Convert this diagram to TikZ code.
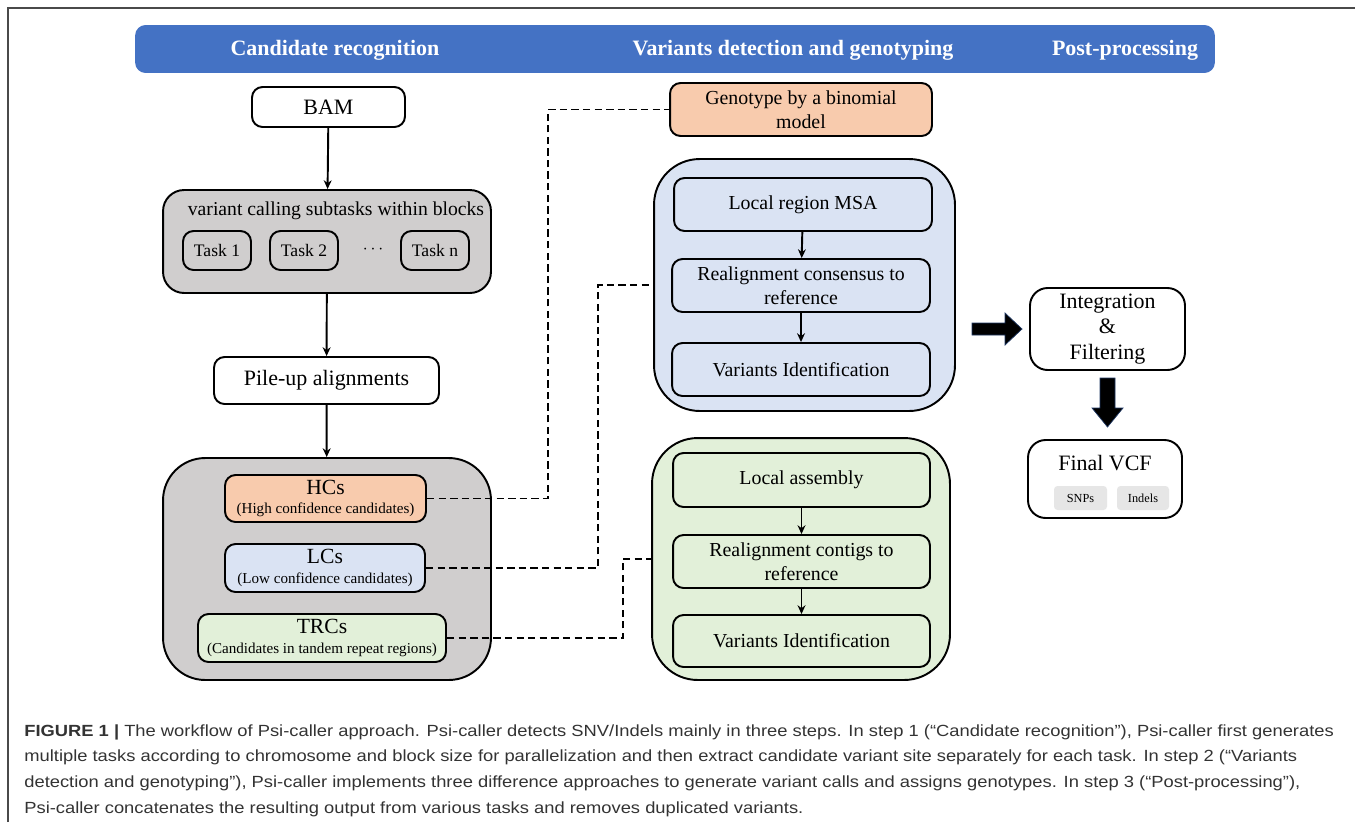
\documentclass[tikz,border=0pt]{standalone}
\usepackage{fontspec}
\setmainfont{Liberation Serif}
\newfontfamily\capfont[FakeStretch=1.135]{Liberation Sans}
\usetikzlibrary{arrows.meta, positioning, calc}
\definecolor{CHead}{HTML}{4472C4}
\definecolor{CGray}{HTML}{D0CECE}
\definecolor{COrange}{HTML}{F8CBAD}
\definecolor{CBlue}{HTML}{DAE3F3}
\definecolor{CGreen}{HTML}{E2F0D9}
\definecolor{CTag}{HTML}{E6E6E6}
\definecolor{CNavy}{HTML}{1F3864}
\definecolor{CFrame}{HTML}{4A4A4A}
\definecolor{CText}{HTML}{333333}

\begin{document}
\begin{tikzpicture}[x=0.02cm, y=-0.02cm,
    box/.style={draw, line width=1.1pt, rounded corners=6pt, align=center, inner sep=2pt},
    group/.style={draw, line width=1.1pt, rounded corners=18pt},
    link/.style={line width=1.1pt, dash pattern=on 4.2pt off 2.4pt},
    flow/.style={-{Stealth[length=5pt,width=4.5pt]}, line width=1.1pt}]
    \useasboundingbox (0,0) rectangle (1355,822);

    % Page frame
    \draw[CFrame, line width=0.8pt] (8,822) -- (8,8) -- (1355,8);

    % Header bar
    \node[fill=CHead, rounded corners=6pt, minimum width=21.6cm, minimum height=0.96cm] (header) at (675,49) {};
    \node[white, font=\fontsize{12.5}{14}\selectfont\bfseries] (hcand) at (335,50) {Candidate recognition};
    \node[white, font=\fontsize{12.5}{14}\selectfont\bfseries] (hvar) at (793,50) {Variants detection and genotyping};
    \node[white, font=\fontsize{12.5}{14}\selectfont\bfseries] (hpost) at (1125,50) {Post-processing};

    % Step 1: candidate recognition
    \node[box, fill=white, minimum width=3.06cm, minimum height=0.8cm, font=\fontsize{12.5}{14}\selectfont] (bam) at (328.5,107) {BAM};
    \node[group, fill=CGray, minimum width=6.56cm, minimum height=2.06cm, rounded corners=12pt] (blocks) at (327,241.5) {};
    \node[font=\fontsize{11.2}{13}\selectfont] (blocktitle) at (336,211) {variant calling subtasks within blocks};
    \node[box, minimum width=1.36cm, minimum height=0.78cm, font=\fontsize{10}{12}\selectfont] (task1) at (217,250.5) {Task 1};
    \node[box, minimum width=1.36cm, minimum height=0.78cm, font=\fontsize{10}{12}\selectfont] (task2) at (304,250.5) {Task 2};
    \node[font=\fontsize{10}{12}\selectfont] (dots) at (373,250) {$\cdots$};
    \node[box, minimum width=1.36cm, minimum height=0.78cm, font=\fontsize{10}{12}\selectfont] (taskn) at (435,250.5) {Task n};
    \node[box, fill=white, minimum width=4.5cm, minimum height=0.94cm, font=\fontsize{12.5}{14}\selectfont] (pileup) at (326.5,380.5) {Pile-up alignments};
    \node[group, fill=CGray, minimum width=6.56cm, minimum height=4.44cm, rounded corners=24pt] (cands) at (327,569) {};
    \node[box, fill=COrange, minimum width=4.02cm, minimum height=0.94cm, inner sep=1pt] (hcs) at (325.5,498.5)
        {{\fontsize{12.3}{12}\selectfont HCs}\\[-1pt]{\fontsize{8.6}{10}\selectfont (High confidence candidates)}};
    \node[box, fill=CBlue, minimum width=4.0cm, minimum height=0.96cm, inner sep=1pt] (lcs) at (325,568)
        {{\fontsize{12.3}{12}\selectfont LCs}\\[-1pt]{\fontsize{8.6}{10}\selectfont (Low confidence candidates)}};
    \node[box, fill=CGreen, minimum width=4.96cm, minimum height=0.96cm, inner sep=1pt] (trcs) at (322,638)
        {{\fontsize{12.3}{12}\selectfont TRCs}\\[-1pt]{\fontsize{8.6}{10}\selectfont (Candidates in tandem repeat regions)}};

    \draw[flow] (bam) -- (blocks);
    \draw[flow] (blocks) -- (pileup);
    \draw[flow] (pileup) -- (cands);

    % Step 2: variants detection and genotyping
    \node[box, fill=COrange, minimum width=5.24cm, minimum height=1.06cm, font=\fontsize{11.3}{13.6}\selectfont] (genotype) at (801,109.5)
        {Genotype by a binomial\\model};

    \node[group, fill=CBlue, minimum width=6.02cm, minimum height=5.04cm, rounded corners=26pt] (msabox) at (804.5,285) {};
    \node[box, minimum width=5.16cm, minimum height=1.06cm, font=\fontsize{11.3}{13.6}\selectfont] (msa) at (803,204.5) {Local region MSA};
    \node[box, minimum width=5.16cm, minimum height=1.06cm, font=\fontsize{11.3}{13.6}\selectfont] (consensus) at (801,285.5) {Realignment consensus to\\reference};
    \node[box, minimum width=5.16cm, minimum height=1.06cm, font=\fontsize{11.3}{13.6}\selectfont] (varidA) at (801,369.5) {Variants Identification};
    \draw[flow] (msa) -- (consensus);
    \draw[flow] (consensus) -- (varidA);

    \node[group, fill=CGreen, minimum width=5.96cm, minimum height=4.84cm, rounded corners=26pt] (asmbox) at (801,559) {};
    \node[box, minimum width=5.14cm, minimum height=1.08cm, font=\fontsize{11.3}{13.6}\selectfont] (assembly) at (801.5,480) {Local assembly};
    \node[box, minimum width=5.14cm, minimum height=1.06cm, font=\fontsize{11.3}{13.6}\selectfont] (contigs) at (801.5,561.5) {Realignment contigs to\\reference};
    \node[box, minimum width=5.14cm, minimum height=1.04cm, font=\fontsize{11.3}{13.6}\selectfont] (varidB) at (801.5,641) {Variants Identification};
    \draw[flow] (assembly) -- (contigs);
    \draw[flow] (contigs) -- (varidB);

    % Dashed links from candidates
    \draw[link] (hcs.east) -- ++(121,0) |- (genotype.west);
    \draw[link] (lcs.east) -- ++(172,0) |- (msabox.west);
    \draw[link] (trcs.east) -- ++(176,0) |- (asmbox.west);

    % Step 3: post-processing
    \node[box, fill=white, rounded corners=10pt, minimum width=3.1cm, minimum height=1.64cm, font=\fontsize{12.5}{14.7}\selectfont] (integ) at (1107.5,329)
        {Integration\\\&\\Filtering};
    \node[box, fill=white, rounded corners=10pt, minimum width=3.08cm, minimum height=1.56cm] (finalvcf) at (1105,479) {};
    \node[font=\fontsize{12.5}{14}\selectfont] (vcftitle) at (1105,463) {Final VCF};
    \node[fill=CTag, rounded corners=2pt, minimum width=1.06cm, minimum height=0.48cm, inner sep=0pt, font=\fontsize{7}{8}\selectfont] (snps) at (1080.5,498) {SNPs};
    \node[fill=CTag, rounded corners=2pt, minimum width=1.04cm, minimum height=0.48cm, inner sep=0pt, font=\fontsize{7}{8}\selectfont] (indels) at (1143,498) {Indels};

    % Block arrows
    \filldraw[black, draw=CNavy, line width=0.4pt] (972,323) -- (1005,323) -- (1005,313) -- (1022,329) -- (1005,345) -- (1005,335) -- (972,335) -- cycle;
    \filldraw[black, draw=CNavy, line width=0.4pt] (1100,378) -- (1115,378) -- (1115,408) -- (1123,408) -- (1107.5,427) -- (1092,408) -- (1100,408) -- cycle;

    % Caption
    \node[anchor=north west, align=left, inner sep=0pt, text=CText, font=\capfont\fontsize{9.2}{14.75}\selectfont] (caption) at (24,724)
        {\textbf{FIGURE 1 |} The workflow of Psi-caller approach. Psi-caller detects SNV/Indels mainly in three steps. In step 1 (“Candidate recognition”), Psi-caller first generates\\
         multiple tasks according to chromosome and block size for parallelization and then extract candidate variant site separately for each task. In step 2 (“Variants\\
         detection and genotyping”), Psi-caller implements three difference approaches to generate variant calls and assigns genotypes. In step 3 (“Post-processing”),\\
         Psi-caller concatenates the resulting output from various tasks and removes duplicated variants.};
\end{tikzpicture}
\end{document}
